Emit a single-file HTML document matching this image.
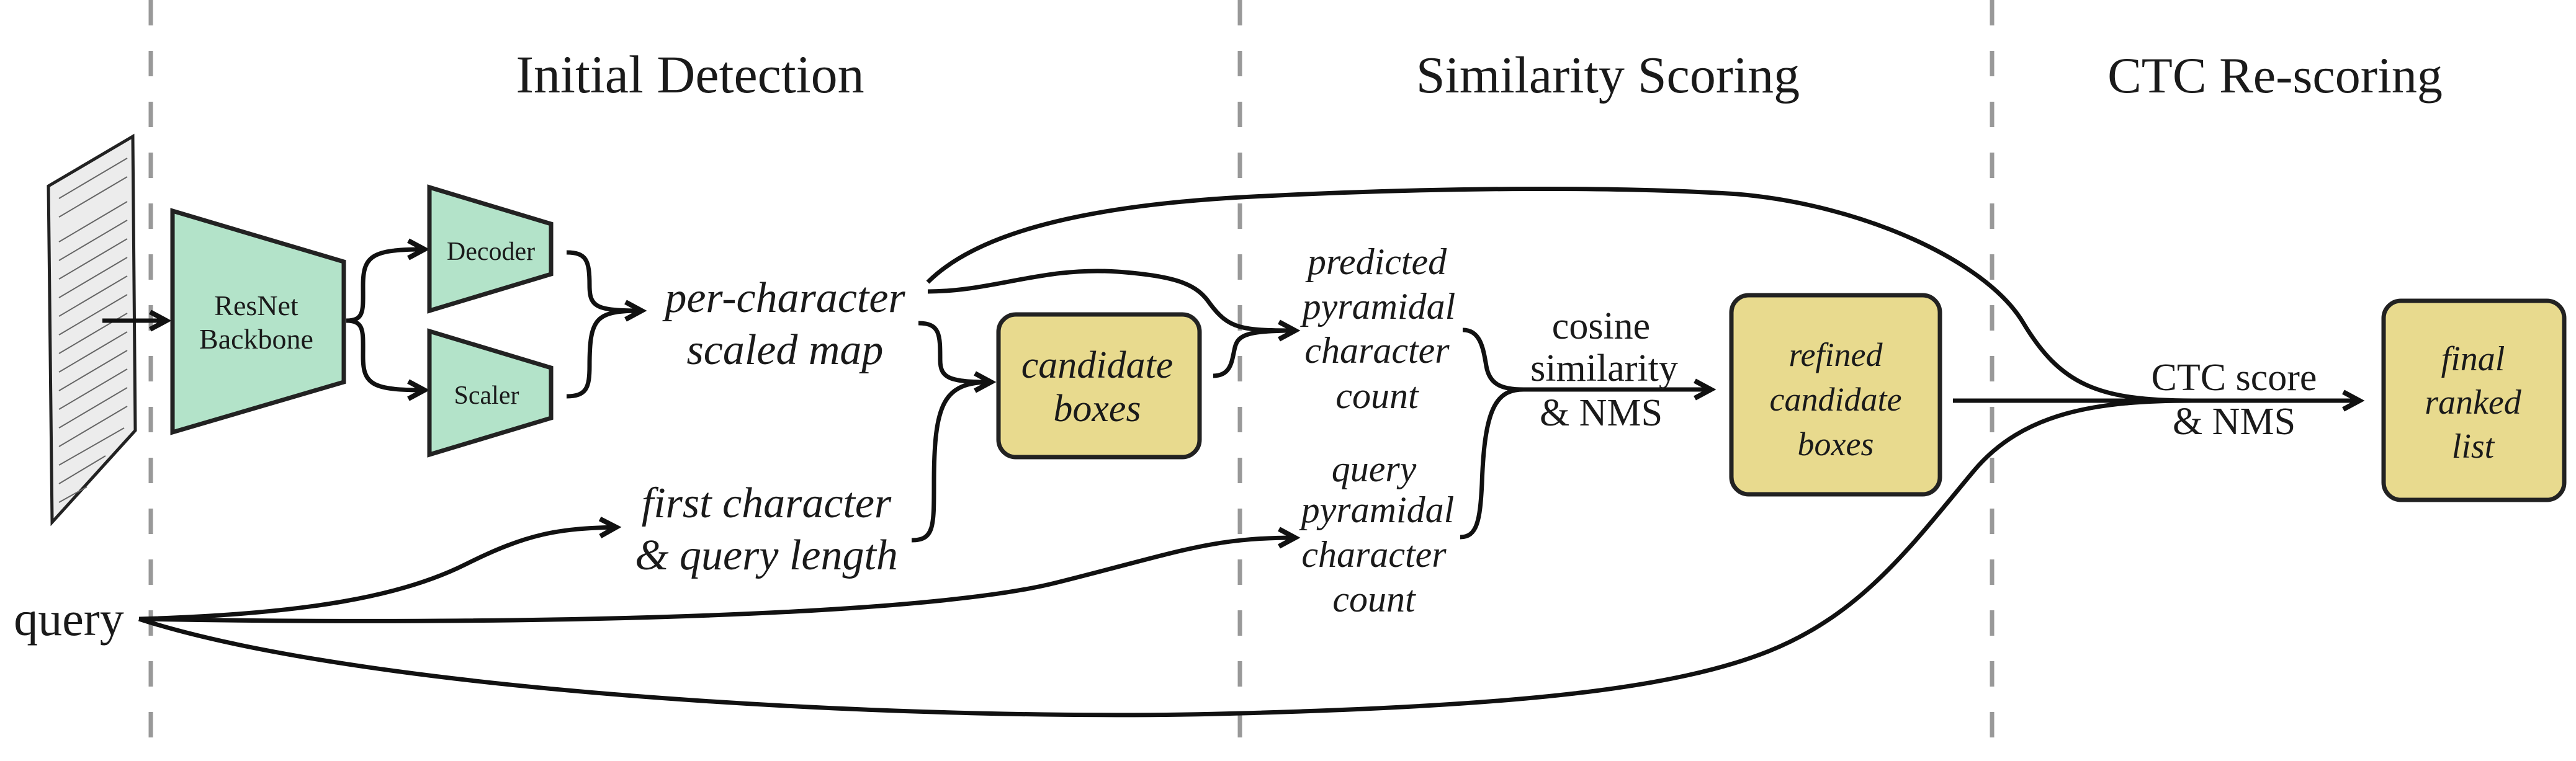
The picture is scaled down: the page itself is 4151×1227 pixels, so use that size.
<!DOCTYPE html>
<html><head><meta charset="utf-8"><style>
html,body{margin:0;padding:0;background:#fff;}
svg{display:block;}
text{font-family:"Liberation Serif",serif;fill:#1a1a1a;}
.it{font-style:italic;}
</style></head><body>
<svg width="4151" height="1227" viewBox="0 0 4151 1227" xmlns="http://www.w3.org/2000/svg">
<defs>
<marker id="a" markerUnits="userSpaceOnUse" markerWidth="60" markerHeight="60" viewBox="-40 -30 60 60" refX="0" refY="0" orient="auto">
<path d="M-26,-14 L0,0 L-26,14" fill="none" stroke="#111" stroke-width="8"/>
</marker>
</defs>
<g stroke="#999" stroke-width="7" stroke-dasharray="41 41">
<line x1="243" y1="0" x2="243" y2="1227"/>
<line x1="1998" y1="0" x2="1998" y2="1227"/>
<line x1="3210" y1="0" x2="3210" y2="1227"/>
</g>
<text x="1112" y="149" font-size="86" text-anchor="middle">Initial Detection</text>
<text x="2591" y="149" font-size="84" text-anchor="middle">Similarity Scoring</text>
<text x="3666" y="149" font-size="82" text-anchor="middle">CTC Re-scoring</text>
<polygon points="78,300 214,220 218,694 84,842" fill="#ececec" stroke="#222" stroke-width="5"/>
<g stroke="#666" stroke-width="2">
<line x1="95" y1="320" x2="205" y2="255"/><line x1="95" y1="350" x2="205" y2="285"/>
<line x1="95" y1="390" x2="205" y2="325"/><line x1="95" y1="420" x2="205" y2="355"/>
<line x1="95" y1="450" x2="205" y2="385"/><line x1="95" y1="480" x2="205" y2="415"/>
<line x1="95" y1="510" x2="205" y2="445"/><line x1="95" y1="540" x2="205" y2="475"/>
<line x1="95" y1="570" x2="205" y2="505"/><line x1="95" y1="600" x2="205" y2="535"/>
<line x1="95" y1="630" x2="205" y2="565"/><line x1="95" y1="660" x2="205" y2="595"/>
<line x1="95" y1="690" x2="205" y2="625"/><line x1="95" y1="720" x2="205" y2="655"/>
<line x1="95" y1="750" x2="200" y2="690"/><line x1="95" y1="780" x2="170" y2="735"/>
<line x1="95" y1="810" x2="140" y2="785"/>
</g>
<g fill="none" stroke="#111" stroke-width="7">
<path d="M165,517 L268,517" marker-end="url(#a)"/>
<path d="M558,517 C588,517 585,500 585,460 C585,412 600,402 684,402" marker-end="url(#a)"/>
<path d="M558,517 C588,517 585,535 585,575 C585,620 600,629 684,629" marker-end="url(#a)"/>
<path d="M913,407 C945,407 950,420 950,460 C950,495 960,501 1034,501" marker-end="url(#a)"/>
<path d="M913,639 C945,639 950,625 950,590 C950,512 960,501 1034,501"/>
<path d="M1495,470 C1600,470 1680,430 1800,438 C1900,445 1930,460 1950,490 C1980,530 2000,533 2087,533" marker-end="url(#a)"/>
<path d="M1495,455 C1560,390 1700,335 2000,318 C2300,302 2600,300 2800,313 C3000,330 3200,420 3260,520 C3320,620 3380,646 3533,646"/>
<path d="M1480,521 C1515,521 1515,540 1515,580 C1515,610 1530,616 1597,616" marker-end="url(#a)"/>
<path d="M1469,871 C1505,871 1505,850 1505,780 C1505,650 1520,616 1597,616"/>
<path d="M1955,606 C1985,606 1985,580 1990,560 C1995,540 2010,533 2087,533"/>
<path d="M2357,532 C2385,532 2390,560 2395,590 C2400,620 2420,628 2455,628"/>
<path d="M2353,866 C2380,866 2385,840 2388,780 C2392,660 2410,628 2455,628 L2757,628" marker-end="url(#a)"/>
<path d="M3147,646 L3802,646" marker-end="url(#a)"/>
<path d="M224,998 C500,990 650,960 750,910 C850,860 900,852 993,850" marker-end="url(#a)"/>
<path d="M224,998 C900,1010 1500,990 1700,940 C1900,890 1950,867 2087,867" marker-end="url(#a)"/>
<path d="M224,998 C600,1120 1500,1165 2000,1150 C2450,1138 2700,1110 2850,1050 C3000,990 3080,880 3180,760 C3260,664 3380,646 3533,646"/>
</g>
<g fill="#b3e3c9" stroke="#222" stroke-width="7">
<polygon points="278,340 554,422 554,616 278,697"/>
<polygon points="692,302 888,361 888,442 692,501"/>
<polygon points="692,534 888,593 888,674 692,733"/>
</g>
<text x="413" y="508" font-size="46" text-anchor="middle">ResNet</text>
<text x="413" y="562" font-size="46" text-anchor="middle">Backbone</text>
<text x="791" y="419" font-size="42" text-anchor="middle">Decoder</text>
<text x="784" y="651" font-size="42" text-anchor="middle">Scaler</text>
<g fill="#e8da8e" stroke="#222" stroke-width="7">
<rect x="1609" y="507" width="324" height="230" rx="28"/>
<rect x="2790" y="476" width="336" height="321" rx="28"/>
<rect x="3841" y="485" width="291" height="321" rx="28"/>
</g>
<g class="it" text-anchor="middle">
<text class="it" x="1265" y="503" font-size="70">per-character</text>
<text class="it" x="1265" y="587" font-size="70">scaled map</text>
<text class="it" x="1235" y="834" font-size="70">first character</text>
<text class="it" x="1235" y="918" font-size="70">&amp; query length</text>
<text class="it" x="1768" y="609" font-size="62">candidate</text>
<text class="it" x="1768" y="679" font-size="62">boxes</text>
<text class="it" x="2219" y="442" font-size="60">predicted</text>
<text class="it" x="2222" y="514" font-size="60">pyramidal</text>
<text class="it" x="2219" y="585" font-size="60">character</text>
<text class="it" x="2219" y="658" font-size="60">count</text>
<text class="it" x="2214" y="776" font-size="60">query</text>
<text class="it" x="2220" y="842" font-size="60">pyramidal</text>
<text class="it" x="2214" y="914" font-size="60">character</text>
<text class="it" x="2214" y="986" font-size="60">count</text>
<text class="it" x="2958" y="590" font-size="54">refined</text>
<text class="it" x="2958" y="662" font-size="54">candidate</text>
<text class="it" x="2958" y="734" font-size="54">boxes</text>
<text class="it" x="3985" y="597" font-size="56">final</text>
<text class="it" x="3985" y="667" font-size="56">ranked</text>
<text class="it" x="3985" y="738" font-size="56">list</text>
</g>
<g text-anchor="middle">
<text x="2580" y="546" font-size="62">cosine</text>
<text x="2585" y="614" font-size="62">similarity</text>
<text x="2580" y="686" font-size="62">&amp; NMS</text>
<text x="3600" y="629" font-size="62">CTC score</text>
<text x="3600" y="700" font-size="62">&amp; NMS</text>
<text x="111" y="1024" font-size="78">query</text>
</g>
</svg>
</body></html>
